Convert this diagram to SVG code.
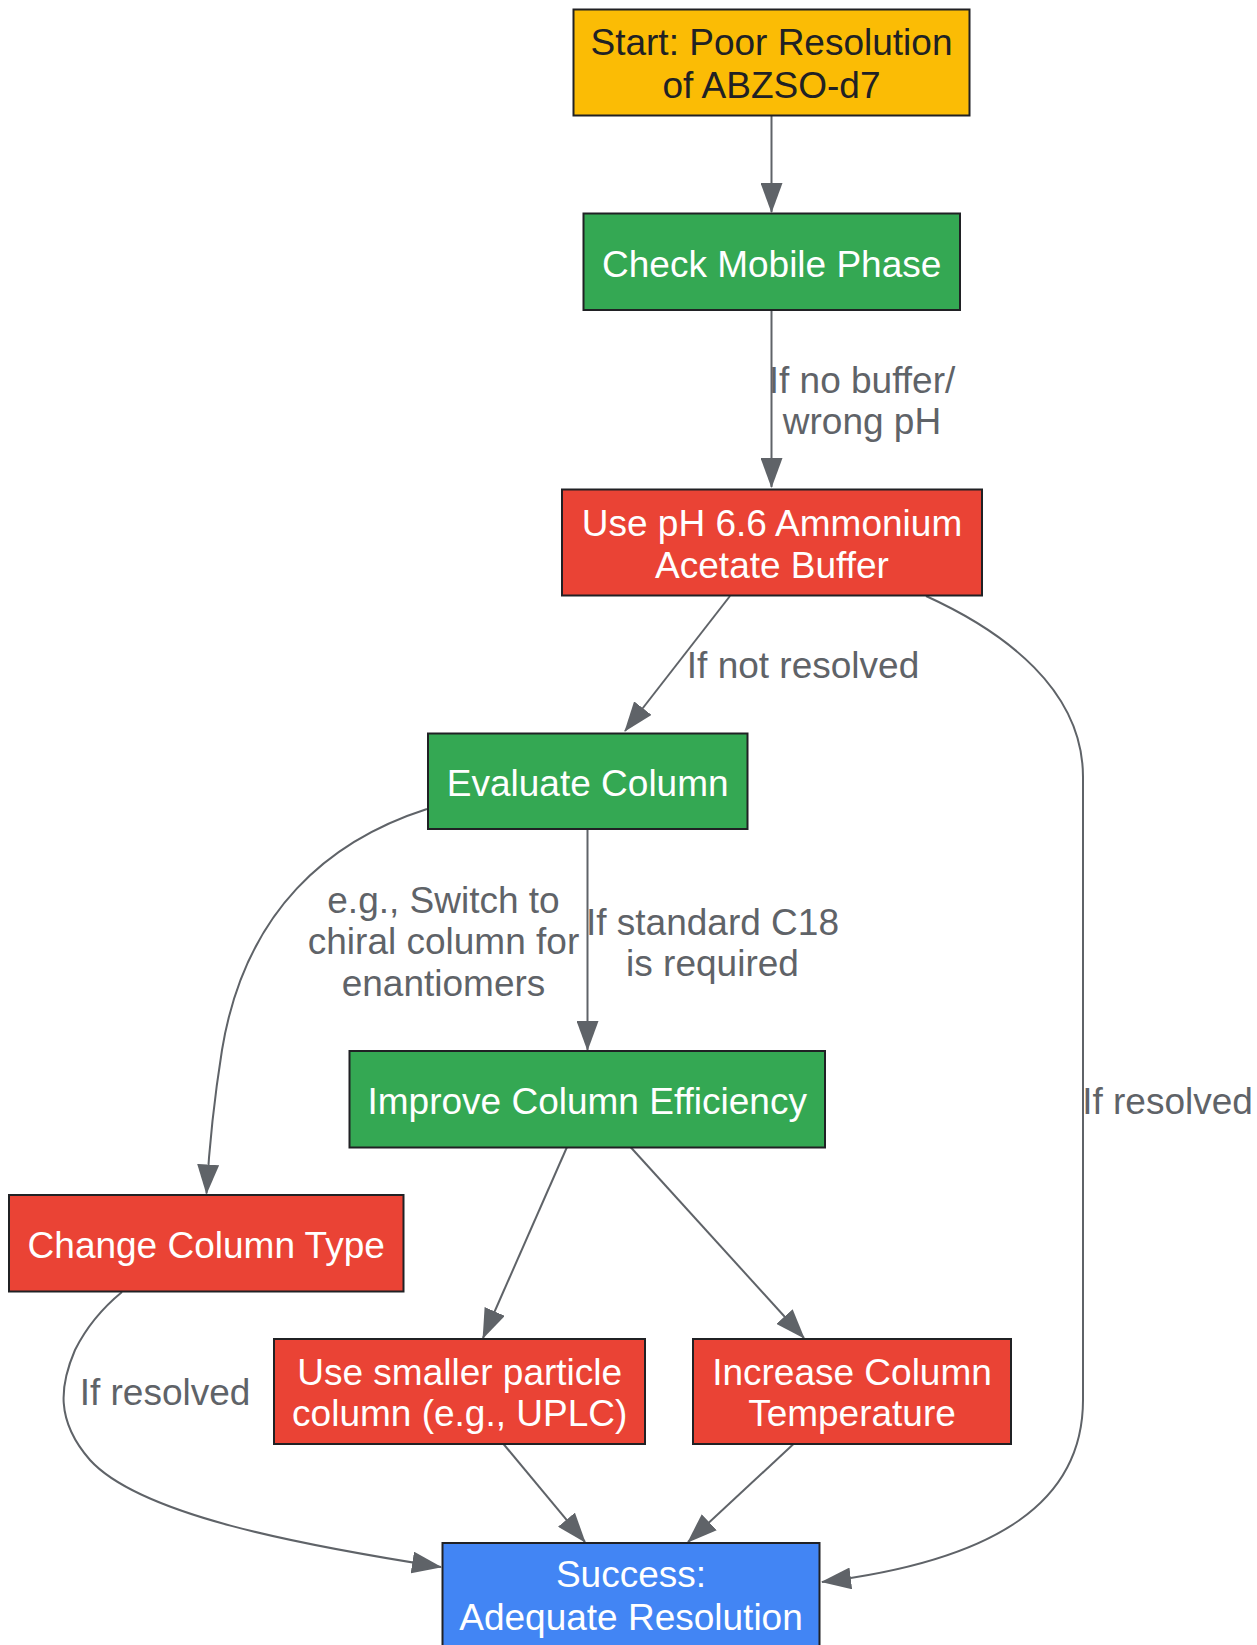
<svg xmlns="http://www.w3.org/2000/svg" width="1257" height="1645" viewBox="0 0 1257 1645">
<style>
.box{stroke:#202124;stroke-width:2}
.yel{fill:#FBBC05}.grn{fill:#34A853}.red{fill:#EA4335}.blu{fill:#4285F4}
.t{font-family:"Liberation Sans",Arial,sans-serif;font-size:37px;text-anchor:middle;fill:#FFFFFF}
.dk{fill:#202124}
.lbl{font-family:"Liberation Sans",Arial,sans-serif;font-size:37px;text-anchor:middle;fill:#5F6368}
.e{fill:none;stroke:#5F6368;stroke-width:2;marker-end:url(#arr)}
</style>
<defs>
<marker id="arr" markerWidth="30" markerHeight="22" refX="29" refY="11" orient="auto" markerUnits="userSpaceOnUse">
<path d="M0,0 L30,11 L0,22 z" fill="#5F6368"/>
</marker>
</defs>
<rect width="1257" height="1645" fill="#FFFFFF"/>
<g id="connectors">
<path class="e" d="M771.5,115.5 L771.5,212"/>
<path class="e" d="M771.5,310 L771.5,487"/>
<path class="e" d="M730,596 L625,731"/>
<path class="e" d="M926,596 C1005,632 1083,690 1083,777 L1083,1400 C1083,1500 1000,1560 822,1582"/>
<path class="e" d="M427,809 C330,840 245,910 222,1050 C214,1100 209,1150 206.5,1193.5"/>
<path class="e" d="M587.5,829 L587.5,1050"/>
<path class="e" d="M122,1292 C100,1310 85,1330 75,1350 C60,1385 55,1420 90,1460 C140,1515 300,1545 441,1567"/>
<path class="e" d="M567,1147 L483,1338"/>
<path class="e" d="M630.5,1147 L804,1338"/>
<path class="e" d="M503.5,1444 L585,1542"/>
<path class="e" d="M793.5,1444 L688,1542"/>
</g>
<g id="edge-labels">
<text class="lbl" x="862" y="392.5">If no buffer/</text>
<text class="lbl" x="862" y="434">wrong pH</text>
<text class="lbl" x="803" y="678">If not resolved</text>
<text class="lbl" x="443.5" y="912.5">e.g., Switch to</text>
<text class="lbl" x="443.5" y="954">chiral column for</text>
<text class="lbl" x="443.5" y="996">enantiomers</text>
<text class="lbl" x="712.5" y="934.5">If standard C18</text>
<text class="lbl" x="712.5" y="976">is required</text>
<text class="lbl" x="1167.5" y="1113.5">If resolved</text>
<text class="lbl" x="165" y="1405">If resolved</text>
</g>
<g id="start">
<rect class="box yel" x="573.5" y="9.5" width="396" height="106"/>
<text class="t dk" x="771.5" y="55">Start: Poor Resolution</text>
<text class="t dk" x="771.5" y="97.5">of ABZSO-d7</text>
</g>
<g id="check-mobile">
<rect class="box grn" x="583.5" y="213.5" width="376.5" height="96.5"/>
<text class="t" x="771.7" y="276.5">Check Mobile Phase</text>
</g>
<g id="use-buffer">
<rect class="box red" x="562" y="489.5" width="420" height="106"/>
<text class="t" x="772" y="535.5">Use pH 6.6 Ammonium</text>
<text class="t" x="772" y="577.5">Acetate Buffer</text>
</g>
<g id="evaluate-column">
<rect class="box grn" x="428" y="733.5" width="319.5" height="95.5"/>
<text class="t" x="587.7" y="796">Evaluate Column</text>
</g>
<g id="improve-efficiency">
<rect class="box grn" x="349.5" y="1051" width="475.5" height="96.5"/>
<text class="t" x="587.2" y="1113.5">Improve Column Efficiency</text>
</g>
<g id="change-column">
<rect class="box red" x="9" y="1195" width="394.5" height="96.5"/>
<text class="t" x="206.2" y="1258.3">Change Column Type</text>
</g>
<g id="smaller-particle">
<rect class="box red" x="274" y="1339" width="371" height="105"/>
<text class="t" x="459.7" y="1385">Use smaller particle</text>
<text class="t" x="459.7" y="1426">column (e.g., UPLC)</text>
</g>
<g id="increase-temp">
<rect class="box red" x="693" y="1339" width="318" height="105"/>
<text class="t" x="852" y="1385">Increase Column</text>
<text class="t" x="852" y="1426">Temperature</text>
</g>
<g id="success">
<rect class="box blu" x="442.5" y="1543" width="377" height="106"/>
<text class="t" x="631" y="1587.3">Success:</text>
<text class="t" x="631" y="1630">Adequate Resolution</text>
</g>
</svg>
